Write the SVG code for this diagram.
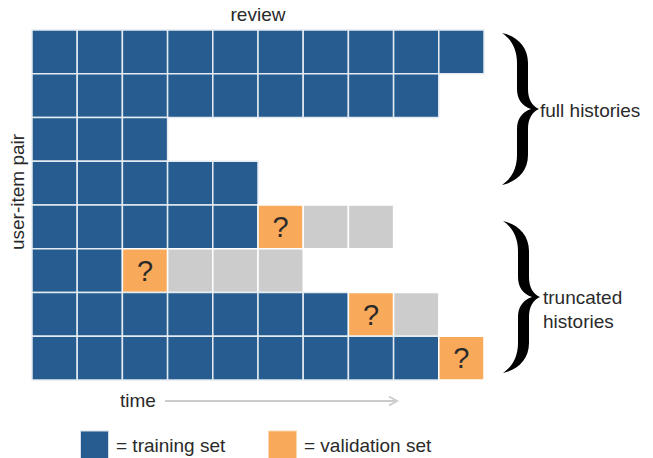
<svg xmlns="http://www.w3.org/2000/svg" width="653" height="458" viewBox="0 0 653 458">
<style>
text{font-family:"Liberation Sans",Arial,sans-serif;fill:#2a2a2a;font-size:19px}
.b{fill:#265C8F;stroke:#e4ebf2;stroke-width:1.5}
.o{fill:#F9A95A;stroke:#fff;stroke-width:1.5}
.g{fill:#CCCCCC;stroke:#fff;stroke-width:1.5}
.q{font-size:29px;text-anchor:middle}
</style>
<defs>
<path id="brace" d="M0,0 C14,3 26,13 26,30 L26,56 C26,66 30,73 37,76 C30,79 26,86 26,96 L26,122 C26,139 14,149 0,152 C9,146 15,136 15,122 L15,96 C15,86 20,79 29,76 C20,73 15,66 15,56 L15,30 C15,16 9,6 0,0 Z" fill="#000"/>
</defs>
<rect width="653" height="458" fill="#fff"/>
<text x="258" y="21" text-anchor="middle">review</text>
<text transform="translate(24,192) rotate(-90)" text-anchor="middle">user-item pair</text>

<g id="row1">
<rect class="b" x="32" y="30" width="45.2" height="43.75"/><rect class="b" x="77.2" y="30" width="45.2" height="43.75"/><rect class="b" x="122.4" y="30" width="45.2" height="43.75"/><rect class="b" x="167.6" y="30" width="45.2" height="43.75"/><rect class="b" x="212.8" y="30" width="45.2" height="43.75"/><rect class="b" x="258" y="30" width="45.2" height="43.75"/><rect class="b" x="303.2" y="30" width="45.2" height="43.75"/><rect class="b" x="348.4" y="30" width="45.2" height="43.75"/><rect class="b" x="393.6" y="30" width="45.2" height="43.75"/><rect class="b" x="438.8" y="30" width="45.2" height="43.75"/>
</g>
<g id="row2">
<rect class="b" x="32" y="73.75" width="45.2" height="43.75"/><rect class="b" x="77.2" y="73.75" width="45.2" height="43.75"/><rect class="b" x="122.4" y="73.75" width="45.2" height="43.75"/><rect class="b" x="167.6" y="73.75" width="45.2" height="43.75"/><rect class="b" x="212.8" y="73.75" width="45.2" height="43.75"/><rect class="b" x="258" y="73.75" width="45.2" height="43.75"/><rect class="b" x="303.2" y="73.75" width="45.2" height="43.75"/><rect class="b" x="348.4" y="73.75" width="45.2" height="43.75"/><rect class="b" x="393.6" y="73.75" width="45.2" height="43.75"/>
</g>
<g id="row3">
<rect class="b" x="32" y="117.5" width="45.2" height="43.75"/><rect class="b" x="77.2" y="117.5" width="45.2" height="43.75"/><rect class="b" x="122.4" y="117.5" width="45.2" height="43.75"/>
</g>
<g id="row4">
<rect class="b" x="32" y="161.25" width="45.2" height="43.75"/><rect class="b" x="77.2" y="161.25" width="45.2" height="43.75"/><rect class="b" x="122.4" y="161.25" width="45.2" height="43.75"/><rect class="b" x="167.6" y="161.25" width="45.2" height="43.75"/><rect class="b" x="212.8" y="161.25" width="45.2" height="43.75"/>
</g>
<g id="row5">
<rect class="b" x="32" y="205" width="45.2" height="43.75"/><rect class="b" x="77.2" y="205" width="45.2" height="43.75"/><rect class="b" x="122.4" y="205" width="45.2" height="43.75"/><rect class="b" x="167.6" y="205" width="45.2" height="43.75"/><rect class="b" x="212.8" y="205" width="45.2" height="43.75"/>
<rect class="o" x="258" y="205" width="45.2" height="43.75"/><text class="q" x="280.6" y="237">?</text>
<rect class="g" x="303.2" y="205" width="45.2" height="43.75"/><rect class="g" x="348.4" y="205" width="45.2" height="43.75"/>
</g>
<g id="row6">
<rect class="b" x="32" y="248.75" width="45.2" height="43.75"/><rect class="b" x="77.2" y="248.75" width="45.2" height="43.75"/>
<rect class="o" x="122.4" y="248.75" width="45.2" height="43.75"/><text class="q" x="145" y="280.75">?</text>
<rect class="g" x="167.6" y="248.75" width="45.2" height="43.75"/><rect class="g" x="212.8" y="248.75" width="45.2" height="43.75"/><rect class="g" x="258" y="248.75" width="45.2" height="43.75"/>
</g>
<g id="row7">
<rect class="b" x="32" y="292.5" width="45.2" height="43.75"/><rect class="b" x="77.2" y="292.5" width="45.2" height="43.75"/><rect class="b" x="122.4" y="292.5" width="45.2" height="43.75"/><rect class="b" x="167.6" y="292.5" width="45.2" height="43.75"/><rect class="b" x="212.8" y="292.5" width="45.2" height="43.75"/><rect class="b" x="258" y="292.5" width="45.2" height="43.75"/><rect class="b" x="303.2" y="292.5" width="45.2" height="43.75"/>
<rect class="o" x="348.4" y="292.5" width="45.2" height="43.75"/><text class="q" x="371" y="324.5">?</text>
<rect class="g" x="393.6" y="292.5" width="45.2" height="43.75"/>
</g>
<g id="row8">
<rect class="b" x="32" y="336.25" width="45.2" height="43.75"/><rect class="b" x="77.2" y="336.25" width="45.2" height="43.75"/><rect class="b" x="122.4" y="336.25" width="45.2" height="43.75"/><rect class="b" x="167.6" y="336.25" width="45.2" height="43.75"/><rect class="b" x="212.8" y="336.25" width="45.2" height="43.75"/><rect class="b" x="258" y="336.25" width="45.2" height="43.75"/><rect class="b" x="303.2" y="336.25" width="45.2" height="43.75"/><rect class="b" x="348.4" y="336.25" width="45.2" height="43.75"/><rect class="b" x="393.6" y="336.25" width="45.2" height="43.75"/>
<rect class="o" x="438.8" y="336.25" width="45.2" height="43.75"/><text class="q" x="461.4" y="368.25">?</text>
</g>

<g id="full-histories">
<use href="#brace" x="502" y="33"/>
<text x="540" y="117">full histories</text>
</g>
<g id="truncated-histories">
<use href="#brace" transform="translate(503,221)"/>
<text x="543" y="304">truncated</text>
<text x="543" y="328">histories</text>
</g>

<text x="120" y="407">time</text>
<g id="connectors" fill="none" stroke="#cccccc" stroke-width="2">
<line x1="165" y1="401" x2="397" y2="401"/>
<polyline points="389,396.5 397,401 389,405.5"/>
</g>

<g id="legend">
<rect x="80.5" y="431" width="28" height="30" fill="#265C8F" stroke="#d6e0ea" stroke-width="1"/>
<text x="116" y="452">= training set</text>
<rect x="268.5" y="431" width="28" height="30" fill="#F9A95A" stroke="#fbd6b0" stroke-width="1"/>
<text x="304" y="452">= validation set</text>
</g>
</svg>
